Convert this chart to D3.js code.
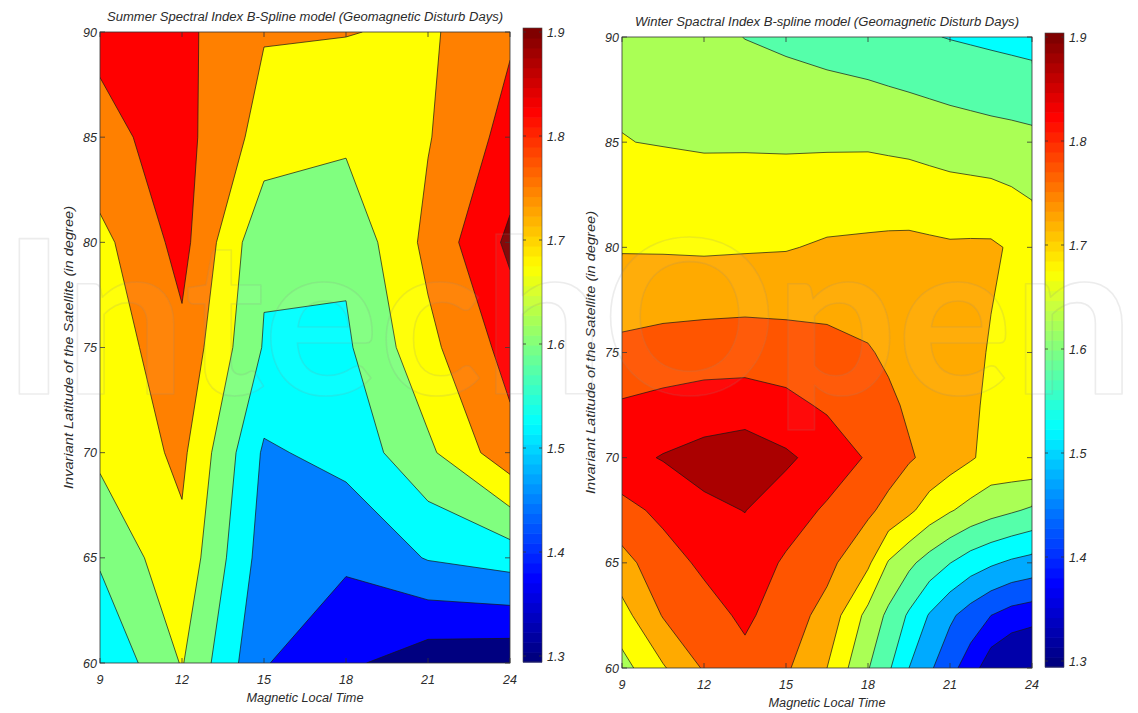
<!DOCTYPE html>
<html>
<head>
<meta charset="utf-8" />
<title>Spectral Index B-Spline model (Geomagnetic Disturb Days)</title>
<script src="https://d3js.org/d3.v7.min.js"></script>
<style>
  body { margin: 0; background: #fff; }
  svg { display: block; }
  text { font-family: "Liberation Sans", Arial, sans-serif; font-style: italic; fill: #2b2b2b; }
</style>
</head>
<body>
<svg id="fig" width="1138" height="713"></svg>
<script>
// summer grid: magnetic local time columns, latitude rows (60 at the bottom)
var summerHours = [9, 12, 15, 18, 21, 24];
var summerLats = [60, 65, 70, 75, 80, 85, 90];
var summerIndex = [
  [1.530, 1.680, 1.455, 1.390, 1.330, 1.319],
  [1.610, 1.730, 1.490, 1.463, 1.530, 1.558],
  [1.691, 1.766, 1.514, 1.549, 1.660, 1.800],
  [1.697, 1.807, 1.594, 1.588, 1.730, 1.852],
  [1.728, 1.850, 1.612, 1.615, 1.770, 1.917],
  [1.808, 1.850, 1.720, 1.690, 1.745, 1.852],
  [1.838, 1.843, 1.755, 1.753, 1.738, 1.815]
];
var summerLevels = [1.375, 1.45, 1.525, 1.6, 1.675, 1.75, 1.825, 1.9];

// winter grid (denser towards the dusk side)
var winterHours = [9, 10.5, 12, 13.5, 15, 16.5, 18, 18.75, 19.5, 20.25, 21, 21.75, 22.5, 23.25, 24];
var winterLats = [60, 62.5, 65, 67.5, 70, 72.5, 75, 80, 85, 90];
var winterIndex = [
  [1.632, 1.695, 1.755, 1.785, 1.757, 1.700, 1.603, 1.557, 1.500, 1.458, 1.416, 1.375, 1.318, 1.290, 1.275],
  [1.682, 1.753, 1.781, 1.809, 1.775, 1.733, 1.635, 1.589, 1.543, 1.496, 1.459, 1.428, 1.400, 1.380, 1.371],
  [1.733, 1.780, 1.809, 1.830, 1.793, 1.764, 1.709, 1.646, 1.611, 1.579, 1.551, 1.525, 1.507, 1.492, 1.482],
  [1.785, 1.811, 1.840, 1.851, 1.825, 1.793, 1.759, 1.735, 1.710, 1.678, 1.654, 1.634, 1.618, 1.606, 1.593],
  [1.835, 1.853, 1.868, 1.880, 1.858, 1.830, 1.795, 1.775, 1.755, 1.739, 1.723, 1.705, 1.685, 1.688, 1.690],
  [1.805, 1.814, 1.822, 1.824, 1.813, 1.793, 1.775, 1.759, 1.743, 1.736, 1.728, 1.709, 1.690, 1.692, 1.695],
  [1.763, 1.771, 1.776, 1.778, 1.774, 1.766, 1.754, 1.742, 1.730, 1.729, 1.728, 1.712, 1.696, 1.696, 1.695],
  [1.696, 1.695, 1.693, 1.695, 1.697, 1.706, 1.709, 1.711, 1.712, 1.709, 1.706, 1.707, 1.707, 1.695, 1.680],
  [1.651, 1.648, 1.645, 1.645, 1.644, 1.644, 1.644, 1.641, 1.638, 1.633, 1.628, 1.624, 1.620, 1.617, 1.613],
  [1.640, 1.630, 1.615, 1.599, 1.590, 1.580, 1.570, 1.564, 1.558, 1.553, 1.548, 1.544, 1.540, 1.536, 1.532]
];
var winterLevels = [1.35, 1.4, 1.45, 1.5, 1.55, 1.6, 1.65, 1.7, 1.75, 1.8, 1.85];

var hourTicks = [9, 12, 15, 18, 21, 24];
var latTicks = [60, 65, 70, 75, 80, 85, 90];
var indexTicks = [1.3, 1.4, 1.5, 1.6, 1.7, 1.8, 1.9];

var svg = d3.select("#fig");
var plotW = 410, plotH = 631;

// matlab jet colormap
function jetT(t) {
  t = Math.max(0, Math.min(1, t));
  var c = function (v) { return Math.round(255 * Math.max(0, Math.min(1, v))); };
  var r = Math.min(4 * t - 1.5, -4 * t + 4.5);
  var g = Math.min(4 * t - 0.5, -4 * t + 3.5);
  var b = Math.min(4 * t + 0.5, -4 * t + 2.5);
  return "rgb(" + c(r) + "," + c(g) + "," + c(b) + ")";
}
function jet(v) { return jetT((v - 1.3) / 0.6); }

function drawPanel(cfg) {
  var g = svg.append("g");
  var x = d3.scaleLinear().domain([9, 24]).range([cfg.left, cfg.left + plotW]);
  var y = d3.scaleLinear().domain([60, 90]).range([cfg.top + plotH, cfg.top]);
  // grid index -> data value (piecewise, so uneven spacing works)
  var col = d3.scaleLinear().domain(d3.range(cfg.hours.length)).range(cfg.hours);
  var row = d3.scaleLinear().domain(d3.range(cfg.lats.length)).range(cfg.lats);
  var proj = d3.geoTransform({
    point: function (px, py) { this.stream.point(x(col(px - 0.5)), y(row(py - 0.5))); }
  });
  var path = d3.geoPath(proj);

  var contours = d3.contours()
    .size([cfg.hours.length, cfg.lats.length])
    .thresholds(cfg.levels)(cfg.values.flat());

  svg.append("clipPath").attr("id", cfg.id + "-clip")
    .append("rect").attr("x", cfg.left).attr("y", cfg.top)
    .attr("width", plotW).attr("height", plotH);

  var area = g.append("g").attr("clip-path", "url(#" + cfg.id + "-clip)");
  area.append("rect")
    .attr("x", cfg.left).attr("y", cfg.top).attr("width", plotW).attr("height", plotH)
    .attr("fill", cfg.color(1.3));
  area.selectAll("path")
    .data(contours)
    .join("path")
    .attr("d", path)
    .attr("fill", function (d) { return cfg.color(d.value); })
    .attr("stroke", "#151515")
    .attr("stroke-width", 0.7)
    .attr("stroke-linejoin", "round");

  // frame with inward ticks on all sides
  g.append("rect")
    .attr("x", cfg.left).attr("y", cfg.top).attr("width", plotW).attr("height", plotH)
    .attr("fill", "none").attr("stroke", "#333").attr("stroke-width", 0.8);
  var tk = g.append("g").attr("stroke", "#333").attr("stroke-width", 0.8);
  hourTicks.forEach(function (h) {
    tk.append("line").attr("x1", x(h)).attr("x2", x(h)).attr("y1", cfg.top + plotH).attr("y2", cfg.top + plotH - 5);
    tk.append("line").attr("x1", x(h)).attr("x2", x(h)).attr("y1", cfg.top).attr("y2", cfg.top + 5);
  });
  latTicks.forEach(function (l) {
    tk.append("line").attr("x1", cfg.left).attr("x2", cfg.left + 5).attr("y1", y(l)).attr("y2", y(l));
    tk.append("line").attr("x1", cfg.left + plotW).attr("x2", cfg.left + plotW - 5).attr("y1", y(l)).attr("y2", y(l));
  });

  g.append("g").selectAll("text").data(hourTicks).join("text")
    .attr("x", function (d) { return x(d); })
    .attr("y", cfg.top + plotH + 21)
    .attr("text-anchor", "middle")
    .attr("font-size", 12.5)
    .text(function (d) { return d; });
  g.append("g").selectAll("text").data(latTicks).join("text")
    .attr("x", cfg.left - 3)
    .attr("y", function (d) { return y(d) + 4.5; })
    .attr("text-anchor", "end")
    .attr("font-size", 12.5)
    .text(function (d) { return d; });

  // titles
  g.append("text")
    .attr("x", cfg.left + plotW / 2).attr("y", cfg.top - 11)
    .attr("text-anchor", "middle").attr("font-size", 12)
    .attr("textLength", cfg.titleLen).attr("lengthAdjust", "spacingAndGlyphs")
    .text(cfg.title);
  g.append("text")
    .attr("x", cfg.left + plotW / 2).attr("y", cfg.top + plotH + 39)
    .attr("text-anchor", "middle").attr("font-size", 12)
    .attr("textLength", 117).attr("lengthAdjust", "spacingAndGlyphs")
    .text("Magnetic Local Time");
  g.append("text")
    .attr("transform", "translate(" + (cfg.left - 27) + "," + (cfg.top + plotH / 2) + ") rotate(-90)")
    .attr("text-anchor", "middle").attr("font-size", 12)
    .attr("textLength", 283).attr("lengthAdjust", "spacingAndGlyphs")
    .text("Invariant Latitude of the Satellite (in degree)");

  // colorbar
  var cbX = cfg.left + plotW + 13, cbW = 19;
  var cbTop = cfg.top - 4, cbBot = cfg.top + plotH - 1;
  var cb = d3.scaleLinear().domain([1.3, 1.9]).range([cfg.top + plotH - 7, cfg.top]);
  var lo = cb.invert(cbBot), hi = cb.invert(cbTop);
  var steps = d3.range(64);
  var cbar = g.append("g");
  cbar.selectAll("rect").data(steps).join("rect")
    .attr("x", cbX)
    .attr("width", cbW)
    .attr("y", function (i) { return cb(lo + (i + 1) * (hi - lo) / 64); })
    .attr("height", function (i) { return cb(lo + i * (hi - lo) / 64) - cb(lo + (i + 1) * (hi - lo) / 64) + 0.6; })
    .attr("fill", function (i) { return jetT(i / 63); });
  cbar.append("rect")
    .attr("x", cbX).attr("y", cbTop).attr("width", cbW).attr("height", cbBot - cbTop)
    .attr("fill", "none").attr("stroke", "#444").attr("stroke-width", 0.6);
  var ct = cbar.append("g").attr("stroke", "#333").attr("stroke-width", 0.8);
  indexTicks.forEach(function (v) {
    ct.append("line").attr("x1", cbX).attr("x2", cbX + 3).attr("y1", cb(v)).attr("y2", cb(v));
    ct.append("line").attr("x1", cbX + cbW).attr("x2", cbX + cbW - 3).attr("y1", cb(v)).attr("y2", cb(v));
  });
  cbar.selectAll("text").data(indexTicks).join("text")
    .attr("x", cbX + cbW + 5)
    .attr("y", function (v) { return cb(v) + 4.5; })
    .attr("font-size", 12.5)
    .text(function (v) { return v.toFixed(1); });
}

drawPanel({
  id: "summer", left: 100, top: 32,
  hours: summerHours, lats: summerLats, values: summerIndex, levels: summerLevels,
  color: function (v) { return jet(v); },
  title: "Summer Spectral Index B-Spline model (Geomagnetic Disturb Days)", titleLen: 396
});
drawPanel({
  id: "winter", left: 622, top: 37,
  hours: winterHours, lats: winterLats, values: winterIndex, levels: winterLevels,
  color: function (v) { return jet(v + 0.025); },
  title: "Winter Spactral Index B-spline model (Geomagnetic Disturb Days)", titleLen: 384
});

// faint publisher watermark
svg.append("text")
  .attr("x", 2).attr("y", 394)
  .attr("font-size", 215)
  .attr("textLength", 1132).attr("lengthAdjust", "spacingAndGlyphs")
  .style("font-family", "Lato, 'Open Sans', sans-serif")
  .style("font-style", "normal").style("font-weight", 700)
  .style("fill", "#ffffff").style("fill-opacity", 0.04)
  .style("stroke", "#8a8a8a").style("stroke-opacity", 0.16).style("stroke-width", 1.6)
  .style("stroke-linejoin", "round")
  .text("IntechOpen");
</script>
</body>
</html>
